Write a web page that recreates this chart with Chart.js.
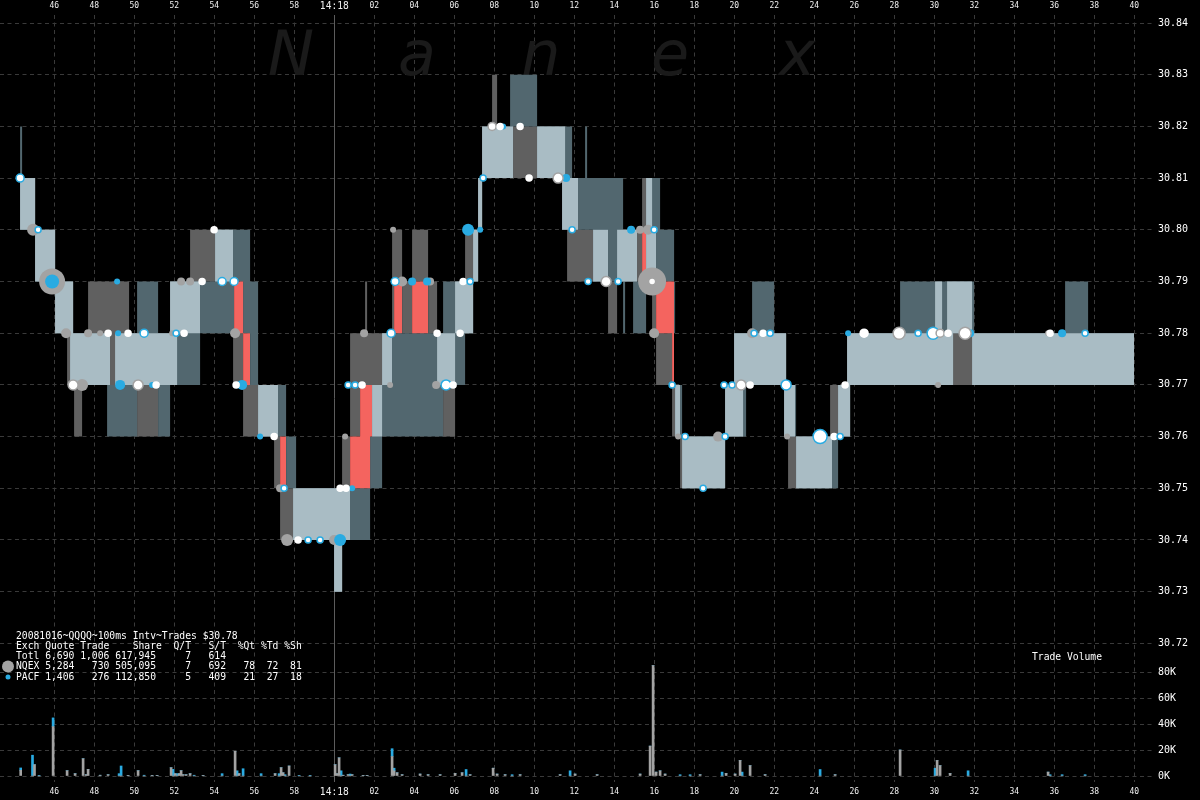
<!DOCTYPE html>
<html><head><meta charset="utf-8">
<script src="https://cdn.jsdelivr.net/npm/chart.js@4.4.0/dist/chart.umd.min.js"></script>
<style>html,body{margin:0;padding:0;background:#000;overflow:hidden}canvas{display:block}</style>
</head><body>
<canvas id="c" width="1200" height="800"></canvas>
<script>
// ---------- axis ticks ----------
const xTicks = [46,48,50,52,54,56,58,60,62,64,66,68,70,72,74,76,78,80,82,84,86,88,90,92,94,96,98,100];
const priceTicks = [30.72,30.73,30.74,30.75,30.76,30.77,30.78,30.79,30.80,30.81,30.82,30.83,30.84];
const volTicks = [0,20000,40000,60000,80000];

// ---------- NQEX quote (seconds after 14:17:00, bid, ask) ----------
const nqT   = [44.29,45.04,46.04,46.64,46.94,46.99,47.39,47.69,49.74,50.14,51.19,51.79,52.14,52.79,53.29,54.94,55.44,56.99,57.19,57.29,59.99,60.39,60.79,61.29,61.54,61.64,61.89,62.39,62.89,62.99,63.39,63.89,64.69,65.14,65.44,66.04,66.54,66.94,67.19,67.39,67.89,68.14,71.39,71.54,71.64,72.19,73.69,74.14,75.39,75.59,75.89,76.09,76.89,77.29,79.54,79.99,80.44,82.49,82.59,82.69,83.04,84.79,84.89,85.64,85.79,90.04,90.39,90.64,91.89,99.99];
const nqBid = [30.80,30.79,30.78,30.77,30.77,30.76,30.77,30.77,30.77,30.76,30.77,30.77,30.78,30.78,30.79,30.77,30.76,30.75,30.75,30.74,30.73,30.74,30.76,30.77,30.77,30.77,30.76,30.77,30.78,30.79,30.78,30.79,30.78,30.77,30.76,30.78,30.78,30.79,30.80,30.81,30.81,30.81,30.80,30.80,30.79,30.79,30.78,30.79,30.80,30.79,30.78,30.77,30.76,30.75,30.76,30.76,30.77,30.76,30.76,30.75,30.75,30.75,30.76,30.76,30.77,30.77,30.77,30.77,30.77,30.77];
const nqAsk = [30.81,30.80,30.79,30.79,30.78,30.78,30.78,30.79,30.78,30.78,30.78,30.79,30.79,30.80,30.80,30.78,30.77,30.77,30.76,30.75,30.75,30.76,30.78,30.78,30.79,30.78,30.78,30.78,30.80,30.80,30.79,30.80,30.79,30.78,30.78,30.79,30.80,30.80,30.81,30.82,30.83,30.82,30.82,30.81,30.81,30.80,30.79,30.80,30.81,30.81,30.80,30.78,30.77,30.76,30.77,30.78,30.78,30.78,30.77,30.77,30.76,30.77,30.77,30.78,30.78,30.79,30.78,30.79,30.78,30.78];

// ---------- PACF quote ----------
const paT   = [44.29,44.39,45.04,46.04,46.79,46.94,48.64,48.79,49.04,50.14,51.19,51.79,53.29,54.04,54.99,55.44,55.79,56.19,57.59,57.94,58.09,59.99,60.39,61.79,61.89,62.39,65.44,66.54,66.94,67.19,67.39,68.79,68.94,70.14,71.39,71.89,72.54,72.64,72.94,74.44,74.54,74.94,75.14,75.59,76.29,76.99,77.04,77.39,79.54,79.99,80.59,80.89,81.99,82.49,82.59,83.09,85.19,85.64,85.79,88.29,90.94,91.89,91.99,96.54,97.69,99.99];
const paBid = [30.80,30.80,30.79,30.78,30.77,30.77,30.76,30.76,30.76,30.77,30.76,30.77,30.78,30.78,30.79,30.78,30.77,30.76,30.75,30.74,30.74,30.73,30.74,30.75,30.75,30.76,30.77,30.78,30.79,30.80,30.81,30.81,30.82,30.81,30.80,30.80,30.80,30.80,30.79,30.78,30.79,30.78,30.78,30.79,30.79,30.78,30.76,30.75,30.76,30.76,30.77,30.77,30.77,30.76,30.76,30.75,30.76,30.76,30.77,30.77,30.78,30.77,30.77,30.77,30.77,30.77];
const paAsk = [30.82,30.81,30.80,30.79,30.79,30.78,30.78,30.77,30.78,30.79,30.78,30.79,30.79,30.80,30.80,30.80,30.79,30.77,30.76,30.76,30.75,30.75,30.75,30.76,30.77,30.78,30.79,30.79,30.80,30.81,30.82,30.83,30.83,30.82,30.82,30.81,30.82,30.81,30.81,30.80,30.80,30.80,30.79,30.81,30.80,30.79,30.77,30.76,30.77,30.78,30.78,30.79,30.78,30.78,30.77,30.76,30.77,30.78,30.78,30.79,30.79,30.79,30.78,30.79,30.78,30.78];

// ---------- crossed quotes ----------
const redT  = [54.99,55.44,55.79,55.80,57.29,57.59,57.60,60.79,61.29,61.79,61.89,61.90,62.99,63.39,63.40,63.89,64.69,64.70,75.39,75.59,75.60,76.09,76.89,76.99];
const redLo = [30.78,30.77,30.77,null,30.75,30.75,null,30.75,30.75,30.76,30.76,null,30.78,30.78,null,30.78,30.78,null,30.79,30.79,null,30.78,30.77,30.77];
const redHi = [30.79,30.78,30.78,null,30.76,30.76,null,30.76,30.77,30.77,30.77,null,30.79,30.79,null,30.79,30.79,null,30.80,30.80,null,30.79,30.79,30.79];

// ---------- trades ----------
const nqTrT = [44.94,45.89,46.59,47.39,47.69,48.29,51.89,52.34,52.79,55.04,57.29,57.64,59.99,60.54,61.49,62.79,62.94,63.39,64.79,65.09,75.29,75.69,75.89,75.99,77.19,79.19,80.89,82.64,90.19,95.69];
const nqTrP = [30.80,30.79,30.78,30.77,30.78,30.78,30.78,30.79,30.79,30.78,30.75,30.74,30.74,30.76,30.78,30.77,30.80,30.79,30.79,30.77,30.80,30.80,30.79,30.78,30.76,30.76,30.78,30.76,30.77,30.78];
const nqTrR = [6,13,5,6,4,3,3,4,4,5,4,6,5,3,4,3,3,5,4,4,4,5,14,5,3,5,5,3,3,3];

const paTrT = [45.89,49.14,49.19,49.29,50.89,55.39,56.29,60.29,60.89,63.89,64.64,66.69,67.29,68.44,71.59,74.84,80.39,85.69,91.79,96.39];
const paTrP = [30.79,30.79,30.78,30.77,30.77,30.77,30.76,30.74,30.75,30.79,30.79,30.80,30.80,30.82,30.81,30.80,30.77,30.78,30.78,30.78];
const paTrR = [7,3,3,5,3,5,3,6,3,4,4,6,3,3,4,4,4,3,4,4];

const wTrT = [44.29,45.19,48.69,49.69,50.49,52.09,52.49,53.39,53.99,54.39,54.99,46.94,50.19,51.09,55.09,56.99,57.49,58.19,58.69,59.29,60.29,60.59,60.69,61.04,61.39,62.84,63.04,65.14,65.59,65.94,66.29,66.44,66.79,67.44,67.89,68.29,69.29,69.74,71.19,71.89,72.69,73.59,74.19,75.99,76.89,77.54,78.44,79.54,79.49,79.89,80.34,80.79,80.99,81.44,81.79,82.59,84.29,84.99,85.29,85.54,86.49,88.24,89.19,89.94,90.29,90.69,91.54,95.79,97.54,75.89];
const wTrP = [30.81,30.80,30.78,30.78,30.78,30.78,30.78,30.79,30.80,30.79,30.79,30.77,30.77,30.77,30.77,30.76,30.75,30.74,30.74,30.74,30.75,30.75,30.77,30.77,30.77,30.78,30.79,30.78,30.77,30.77,30.78,30.79,30.79,30.81,30.82,30.82,30.82,30.81,30.81,30.80,30.79,30.79,30.79,30.80,30.77,30.76,30.75,30.76,30.77,30.77,30.77,30.77,30.78,30.78,30.78,30.77,30.76,30.76,30.76,30.77,30.78,30.78,30.78,30.78,30.78,30.78,30.78,30.78,30.78,30.79];
const wTrR = [4,3,3,3,4,3,3,3,3,4,4,5,5,3,3,3,3,3,3,3,3,3,3,3,3,4,4,3,5,3,3,3,3,3,4,3,3,3,5,3,3,5,3,3,3,3,3,3,3,3,5,3,3,3,3,5,7,3,3,3,4,6,3,6,4,3,6,3,3,2];
const wTrEx = ['P','P','','','P','P','','','','P','P','N','N','','','','P','','P','P','','','P','P','','P','P','','P','','','','P','P','N','','','','N','P','P','N','P','P','P','P','P','P','P','P','N','','P','','P','P','P','','P','','','N','P','P','N','','N','','P',''];

// ---------- trade volume per 100ms ----------
const volT  = [44.32,44.91,45.01,45.24,45.94,46.64,47.04,47.44,47.59,47.69,48.29,48.69,49.24,49.34,49.69,50.19,50.49,50.89,51.14,51.84,51.94,52.04,52.14,52.24,52.34,52.44,52.59,52.79,52.99,53.44,54.39,55.04,55.14,55.24,55.44,56.34,57.04,57.24,57.34,57.44,57.54,57.74,58.24,58.79,60.04,60.14,60.24,60.34,60.44,60.69,60.79,60.89,61.44,61.64,62.89,62.99,63.14,63.39,64.29,64.69,65.29,66.04,66.39,66.59,66.79,67.94,68.14,68.54,68.89,69.29,71.29,71.79,72.04,73.14,75.29,75.79,75.94,76.09,76.29,76.54,77.29,77.79,78.29,79.39,79.59,80.04,80.29,80.39,80.79,81.54,84.29,85.04,88.29,90.04,90.14,90.29,90.79,91.69,95.69,95.79,96.39,97.54];
const volNQ = [4400,0,8700,0,38000,4100,1800,13300,1000,5100,600,1000,0,0,500,4100,0,500,500,6400,0,1800,0,1800,4100,1000,1000,1800,0,500,0,19000,0,1800,0,0,1800,0,6400,2500,0,7700,0,0,8700,1800,14000,0,600,1000,0,1000,500,500,15000,4000,2500,1000,1500,1000,1000,2000,2500,0,1000,6000,1500,1000,0,1000,1000,0,1500,1000,1500,23000,85000,3000,4000,1500,0,0,1000,0,2000,1500,12000,0,8000,1000,0,1000,20000,0,12000,8000,2000,0,3000,0,0,0];
const volPA = [1800,16000,0,500,6700,0,0,0,0,0,0,0,1800,7700,0,0,600,0,0,0,5100,0,1800,0,0,0,0,0,600,0,1800,0,4000,0,5600,1800,0,1800,0,0,1000,0,500,500,0,0,0,4000,0,0,1500,0,0,0,6000,2000,0,0,0,0,0,0,0,5000,0,0,0,0,1000,0,0,4000,0,0,0,0,0,0,0,0,1000,1000,0,3000,0,0,0,3000,0,0,5000,0,0,6000,0,0,0,4000,0,1000,1000,1000];

// ---------- text ----------
const legendLines = [
  '20081016~QQQQ~100ms Intv~Trades $30.78',
  'Exch Quote Trade    Share  Q/T   S/T  %Qt %Td %Sh',
  'Totl 6,690 1,006 617,945     7   614',
  'NQEX 5,284   730 505,095     7   692   78  72  81',
  'PACF 1,406   276 112,850     5   409   21  27  18'
];
const watermark = ['N','a','n','e','x'];

// ---------- styling ----------
const MONO = "'DejaVu Sans Mono', monospace";
const GREY = '#a3a3a3', BLUE = '#29abe2', RED = '#f4645f';
const NQ_ONLY = '#606060', PA_ONLY = '#52676f', BOTH = '#a9bcc4';
const GRIDC = '#3a3a3a';
const X_MIN = 43.285, X_MAX = 100.935;
const P_MIN = 30.71872, P_MAX = 30.84155;
const V_MIN = -4615, V_MAX = 96923;

const pts = (t, v) => t.map((x,i)=>({x:x, y:v[i]}));
const exColor = e => e==='P' ? BLUE : (e==='N' ? GREY : '#ffffff');

// band where both exchanges quote the same levels (overlap of the two quote ranges)
function stepAt(T, V, t){ let v = null; for (let i=0;i<T.length;i++){ if (T[i] <= t + 1e-9) v = V[i]; else break; } return v; }
const allT = Array.from(new Set(nqT.concat(paT))).sort((a,b)=>a-b);
const bothLo = [], bothHi = [];
let prevBand = null;
allT.forEach(t => {
  const lo = Math.max(stepAt(nqT,nqBid,t), stepAt(paT,paBid,t));
  const hi = Math.min(stepAt(nqT,nqAsk,t), stepAt(paT,paAsk,t));
  const ok = lo < hi - 1e-9;
  if (!ok && prevBand) { bothLo.push({x:t, y:prevBand[0]}); bothHi.push({x:t, y:prevBand[1]}); }
  bothLo.push({x:t, y: ok ? lo : null}); bothHi.push({x:t, y: ok ? hi : null});
  prevBand = ok ? [lo, hi] : null;
});

const band = (label, data, fill, bg) => ({
  type:'line', label, data, stepped:true, fill, backgroundColor:bg,
  borderColor:'rgba(0,0,0,0)', borderWidth:0, pointRadius:0, yAxisID:'y', xAxisID:'x'
});

const deco = {
  id:'deco',
  beforeDraw(chart){
    const c = chart.ctx; c.save(); c.fillStyle = '#000'; c.fillRect(0,0,chart.width,chart.height); c.restore();
  },
  beforeDatasetsDraw(chart){
    const c = chart.ctx; c.save();
    c.font = "italic 62px 'DejaVu Sans', sans-serif"; c.fillStyle = '#1a1a1a'; c.textAlign='center'; c.textBaseline='alphabetic';
    const xs = [291,417,541,670,797];
    watermark.forEach((ch,i)=> c.fillText(ch, xs[i], 75));
    c.restore();
  },
  afterDraw(chart){
    const c = chart.ctx; c.save();
    c.font = "9.7px " + MONO; c.fillStyle = '#ffffff'; c.textBaseline = 'middle'; c.textAlign='left';
    legendLines.forEach((s,i)=> c.fillText(s, 16, 636 + i*10.3));
    c.fillText('Trade Volume', 1032, 657.5);
    c.fillStyle = GREY; c.beginPath(); c.arc(8, 666.5, 6, 0, Math.PI*2); c.fill();
    c.fillStyle = BLUE; c.beginPath(); c.arc(8, 677, 2.5, 0, Math.PI*2); c.fill();
    c.restore();
  }
};

const xLabel = v => v === 60 ? '14:18' : String(v % 60).padStart(2,'0');
const xFont = ctx => (ctx.tick && ctx.tick.value === 60) ? {family:MONO, size:9.6, lineHeight:'10px'} : {family:MONO, size:8, lineHeight:'10px'};

new Chart(document.getElementById('c').getContext('2d'), {
  data: {
    datasets: [
      { type:'scatter', label:'other', data: pts(wTrT, wTrP), pointRadius: wTrR, pointBackgroundColor:'#ffffff',
        pointBorderColor: wTrEx.map(exColor), pointBorderWidth:1.5, yAxisID:'y', xAxisID:'x' },
      { type:'scatter', label:'PACF', data: pts(paTrT, paTrP), pointRadius: paTrR, pointBackgroundColor:BLUE,
        pointBorderWidth:0, yAxisID:'y', xAxisID:'x' },
      { type:'scatter', label:'NQEX', data: pts(nqTrT, nqTrP), pointRadius: nqTrR, pointBackgroundColor:GREY,
        pointBorderWidth:0, yAxisID:'y', xAxisID:'x' },
      band('crossHi', pts(redT, redHi), '+1', RED),
      band('crossLo', pts(redT, redLo), false, RED),
      band('bothHi', bothHi, '+1', BOTH),
      band('bothLo', bothLo, false, BOTH),
      band('paAsk', pts(paT, paAsk), '+1', PA_ONLY),
      band('paBid', pts(paT, paBid), false, PA_ONLY),
      band('nqAsk', pts(nqT, nqAsk), '+1', NQ_ONLY),
      band('nqBid', pts(nqT, nqBid), false, NQ_ONLY),
      { type:'bar', label:'NQEX vol', data: pts(volT, volNQ), backgroundColor:GREY, barThickness:2, borderWidth:0, yAxisID:'yv', xAxisID:'x' },
      { type:'bar', label:'PACF vol', data: pts(volT, volPA), backgroundColor:BLUE, barThickness:2, borderWidth:0, yAxisID:'yv', xAxisID:'x' }
    ]
  },
  options: {
    responsive:false, animation:false, devicePixelRatio:1,
    layout:{ padding:0, autoPadding:false },
    plugins:{ legend:{display:false}, tooltip:{enabled:false}, colors:{enabled:false} },
    scales:{
      x:{ type:'linear', position:'top', min:X_MIN, max:X_MAX, stacked:true, offset:false,
          afterBuildTicks: s => { s.ticks = xTicks.map(v=>({value:v})); },
          afterFit: s => { s.height = 15; s.paddingLeft = 0; s.paddingRight = 0; },
          grid:{ offset:false, color: c => (c.tick && c.tick.value === 60) ? 'rgba(0,0,0,0)' : GRIDC, drawTicks:false },
          border:{ display:false, dash:[4,3.5] },
          ticks:{ color:'#f0f0f0', padding:4, maxRotation:0, autoSkip:false, font:xFont, callback: v => xLabel(v) } },
      x2:{ type:'linear', position:'bottom', min:X_MIN, max:X_MAX, offset:false,
          afterBuildTicks: s => { s.ticks = xTicks.map(v=>({value:v})); },
          afterFit: s => { s.height = 18; s.paddingLeft = 0; s.paddingRight = 0; },
          grid:{ offset:false, color: c => (c.tick && c.tick.value === 60) ? '#5c5c5c' : 'rgba(0,0,0,0)', drawTicks:false },
          border:{ display:false },
          ticks:{ color:'#f0f0f0', padding:5, maxRotation:0, autoSkip:false, font:xFont, callback: v => xLabel(v) } },
      y:{ type:'linear', position:'right', stack:'right', stackWeight:635, min:P_MIN, max:P_MAX,
          afterBuildTicks: s => { s.ticks = priceTicks.map(v=>({value:v})); },
          afterFit: s => { s.width = 47; },
          grid:{ color:GRIDC, drawTicks:false },
          border:{ display:false, dash:[4,3.5] },
          ticks:{ color:'#ffffff', padding:5, font:{family:MONO, size:10}, callback: v => Number(v).toFixed(2) } },
      yv:{ type:'linear', position:'right', stack:'right', stackWeight:132, min:V_MIN, max:V_MAX, stacked:true, beginAtZero:false,
          afterBuildTicks: s => { s.ticks = volTicks.map(v=>({value:v})); },
          afterFit: s => { s.width = 47; },
          grid:{ color:GRIDC, drawTicks:false },
          border:{ display:false, dash:[4,3.5] },
          ticks:{ color:'#ffffff', padding:5, font:{family:MONO, size:10}, callback: v => (v/1000) + 'K' } }
    }
  },
  plugins:[deco]
});
</script>
</body></html>
